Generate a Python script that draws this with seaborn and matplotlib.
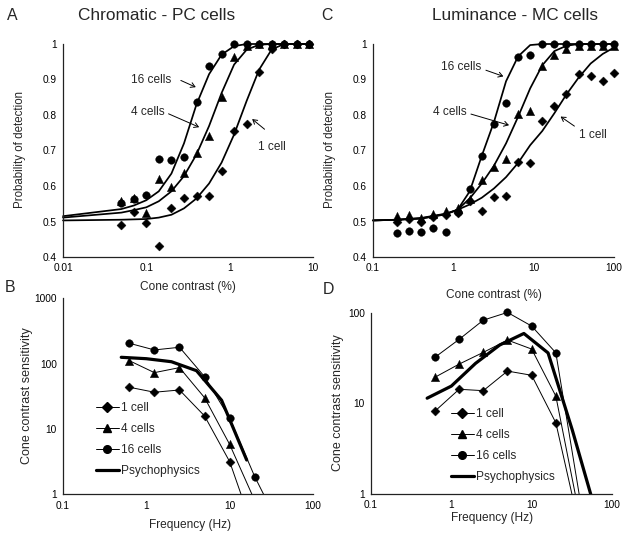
import numpy as np
import pandas as pd
import matplotlib
matplotlib.use("Agg")
import matplotlib.pyplot as plt
import seaborn as sns
from matplotlib.lines import Line2D

# ---------------- data ----------------
# Panel A: chromatic, PC cells (probability of detection vs cone contrast %)
a_x = [0.05, 0.0707, 0.1, 0.141, 0.2, 0.283, 0.4, 0.566, 0.8, 1.13, 1.6, 2.26, 3.2, 4.53, 6.4, 9.05]
a_p16 = [0.553, 0.563, 0.575, 0.677, 0.672, 0.682, 0.838, 0.938, 0.973, 1.0, 1.0, 1.0, 1.0, 1.0, 1.0, 1.0]
a_p4 = [0.558, 0.567, 0.524, 0.619, 0.598, 0.637, 0.694, 0.740, 0.851, 0.963, 0.995, 1.0, 1.0, 1.0, 1.0, 1.0]
a_p1 = [0.489, 0.527, 0.495, 0.431, 0.537, 0.567, 0.572, 0.573, 0.642, 0.756, 0.774, 0.921, 0.985, 1.0, 1.0, 1.0]
a_fit_x = [0.01, 0.05, 0.0707, 0.1, 0.141, 0.2, 0.283, 0.4, 0.566, 0.8, 1.13, 1.6, 2.26, 3.2, 4.53, 6.4, 9.05]
a_fit16 = [0.515, 0.535, 0.545, 0.560, 0.585, 0.635, 0.720, 0.830, 0.915, 0.970, 0.994, 1.0, 1.0, 1.0, 1.0, 1.0, 1.0]
a_fit4 = [0.511, 0.525, 0.532, 0.540, 0.557, 0.585, 0.628, 0.689, 0.769, 0.862, 0.942, 0.984, 0.998, 1.0, 1.0, 1.0, 1.0]
a_fit1 = [0.503, 0.505, 0.506, 0.507, 0.511, 0.519, 0.537, 0.565, 0.607, 0.666, 0.745, 0.840, 0.928, 0.985, 1.0, 1.0, 1.0]

# Panel C: luminance, MC cells
c_x = [0.2, 0.283, 0.4, 0.566, 0.8, 1.13, 1.6, 2.26, 3.2, 4.53, 6.4, 9.05, 12.8, 18.1, 25.6, 36.2, 51.2, 72.4, 100]
c_p16 = [0.468, 0.473, 0.470, 0.482, 0.471, 0.527, 0.591, 0.685, 0.775, 0.833, 0.962, 0.968, 1.0, 1.0, 1.0, 1.0, 1.0, 1.0, 1.0]
c_p4 = [0.516, 0.518, 0.510, 0.520, 0.529, 0.537, 0.562, 0.617, 0.654, 0.676, 0.802, 0.812, 0.937, 0.970, 0.987, 0.993, 0.993, 0.993, 0.993]
c_p1 = [0.499, 0.506, 0.500, 0.513, 0.518, 0.523, 0.558, 0.530, 0.568, 0.572, 0.669, 0.664, 0.782, 0.824, 0.859, 0.915, 0.909, 0.895, 0.918]
c_fit_x = [0.1, 0.2, 0.4, 0.8, 1.13, 1.6, 2.26, 3.2, 4.53, 6.4, 9.05, 12.8, 18.1, 25.6, 36.2, 51.2, 72.4, 100]
c_fit16 = [0.503, 0.505, 0.508, 0.520, 0.533, 0.585, 0.685, 0.780, 0.895, 0.965, 0.997, 1.0, 1.0, 1.0, 1.0, 1.0, 1.0, 1.0]
c_fit4 = [0.503, 0.505, 0.509, 0.521, 0.533, 0.565, 0.607, 0.657, 0.720, 0.795, 0.875, 0.940, 0.980, 0.995, 1.0, 1.0, 1.0, 1.0]
c_fit1 = [0.503, 0.505, 0.510, 0.522, 0.533, 0.548, 0.567, 0.593, 0.625, 0.665, 0.715, 0.755, 0.805, 0.858, 0.905, 0.945, 0.972, 0.990]

# Panel B: chromatic contrast sensitivity vs frequency
b_f = [0.625, 1.25, 2.5, 5, 10, 20]
b_f16 = [0.625, 1.25, 2.5, 5, 10, 20, 40]
b_s1 = [43.5, 36.5, 39.5, 15.8, 3.16, 0.25]
b_s4 = [111, 72.8, 86.9, 30.1, 5.8, 0.8]
b_s16 = [205, 162, 178, 63.2, 14.6, 1.86, 0.32]
b_psy_f = [0.5, 1, 2, 4, 8, 16]
b_psy = [125, 119, 107, 78, 27.5, 3.35]

# Panel D: luminance contrast sensitivity vs frequency
d_f = [0.625, 1.25, 2.5, 5, 10, 20, 40]
d_s1 = [8.2, 14.3, 13.8, 22.7, 20.4, 6.1, 0.4]
d_s4 = [19.4, 27.1, 36.5, 49.9, 39.7, 12.0, 0.54]
d_s16 = [32.2, 50.8, 82.8, 100.7, 71.2, 36.1, 0.87]
d_psy_f = [0.5, 1, 2, 4, 8, 16, 32, 64]
d_psy = [11.4, 15.5, 27.6, 44, 59, 36, 5.1, 0.6]

series_names = ["1 cell", "4 cells", "16 cells"]
markers = {"1 cell": "D", "4 cells": "^", "16 cells": "o"}
msize = {"1 cell": 21, "4 cells": 36, "16 cells": 30}

# ---------------- style ----------------
sns.set_theme(style="white")
plt.rcParams["font.family"] = ["Liberation Sans", "DejaVu Sans"]
plt.rcParams["axes.linewidth"] = 0.9

W, H = 629, 537
fig = plt.figure(figsize=(W / 100, H / 100), dpi=100)
fig.patch.set_facecolor("white")


def add_ax(l, r, t, b):
    return fig.add_axes([l / W, 1 - b / H, (r - l) / W, (b - t) / H])


def ftext(x, y, s, **kw):
    fig.text(x / W, 1 - y / H, s, **kw)


def style_ax(ax):
    sns.despine(ax=ax)
    for sp in ("left", "bottom"):
        ax.spines[sp].set_color("#222222")
    ax.tick_params(axis="both", which="major", direction="out", length=2.5,
                   width=0.8, color="#222222", labelsize=7.3, pad=2, labelcolor="black")
    ax.tick_params(axis="both", which="minor", length=0)
    ax.set_xlabel("")
    ax.set_ylabel("")
    ax.set_facecolor("white")


axA = add_ax(63, 313, 44, 257)
axC = add_ax(373, 614, 44, 257)
axB = add_ax(63, 313, 298.3, 494.3)
axD = add_ax(371, 612, 312.7, 494)

# ---------------- top panels ----------------
for ax, xs, pts, fx, fits, xlim, xt, xtl in [
    (axA, a_x, [a_p1, a_p4, a_p16], a_fit_x, [a_fit1, a_fit4, a_fit16], (0.01, 10),
     [0.01, 0.1, 1, 10], ["0.01", "0.1", "1", "10"]),
    (axC, c_x, [c_p1, c_p4, c_p16], c_fit_x, [c_fit1, c_fit4, c_fit16], (0.1, 100),
     [0.1, 1, 10, 100], ["0.1", "1", "10", "100"]),
]:
    ax.set_xscale("log")
    for fit in fits:
        sns.lineplot(x=fx, y=fit, ax=ax, color="black", lw=1.25, estimator=None,
                     sort=False, clip_on=False, zorder=2)
    for name, p in zip(series_names, pts):
        df = pd.DataFrame({"x": xs, "p": p})
        sns.scatterplot(data=df, x="x", y="p", ax=ax, marker=markers[name], s=msize[name],
                        color="black", edgecolor="black", linewidth=0.3, clip_on=False,
                        legend=False, zorder=3)
    ax.set_xlim(*xlim)
    ax.set_ylim(0.4, 1.0)
    ax.set_xticks(xt)
    ax.set_xticklabels(xtl)
    ax.set_yticks([0.4, 0.5, 0.6, 0.7, 0.8, 0.9, 1.0])
    ax.set_yticklabels(["0.4", "0.5", "0.6", "0.7", "0.8", "0.9", "1"])
    style_ax(ax)

# ---------------- bottom panels ----------------
for ax, fs, sets, pf, ps, ylim, yt, ytl in [
    (axB, [b_f, b_f, b_f16], [b_s1, b_s4, b_s16], b_psy_f, b_psy, (1, 1000),
     [1, 10, 100, 1000], ["1", "10", "100", "1000"]),
    (axD, [d_f, d_f, d_f], [d_s1, d_s4, d_s16], d_psy_f, d_psy, (1, 100),
     [1, 10, 100], ["1", "10", "100"]),
]:
    ax.set_xscale("log")
    ax.set_yscale("log")
    for name, f, s in zip(series_names, fs, sets):
        sns.lineplot(x=f, y=s, ax=ax, color="black", lw=0.7, estimator=None, sort=False, zorder=2)
        df = pd.DataFrame({"f": f, "s": s})
        df = df[df["s"] >= ylim[0]]
        sns.scatterplot(data=df, x="f", y="s", ax=ax, marker=markers[name], s=msize[name],
                        color="black", edgecolor="black", linewidth=0.3, clip_on=False,
                        legend=False, zorder=3)
    sns.lineplot(x=pf, y=ps, ax=ax, color="black", lw=2.3, estimator=None, sort=False, zorder=2.5)
    ax.set_xlim(0.1, 100)
    ax.set_ylim(*ylim)
    ax.set_xticks([0.1, 1, 10, 100])
    ax.set_xticklabels(["0.1", "1", "10", "100"])
    ax.set_yticks(yt)
    ax.set_yticklabels(ytl)
    style_ax(ax)

# legends
handles = [Line2D([], [], color="black", lw=0.7, marker=markers[n],
                  markersize={"1 cell": 4.6, "4 cells": 6.2, "16 cells": 5.5}[n]) for n in series_names]
handles.append(Line2D([], [], color="black", lw=2.3))
labels = series_names + ["Psychophysics"]
for ax, (lx, ty) in [(axB, (96, 402)), (axD, (451, 408))]:
    ax.legend(handles, labels, loc="upper left", bbox_to_anchor=(lx / W, 1 - ty / H),
              bbox_transform=fig.transFigure, frameon=False, fontsize=8.6,
              handlelength=1.9, handletextpad=0.2, labelspacing=0.75,
              borderpad=0, borderaxespad=0, numpoints=1)

# ---------------- annotations (top panels) ----------------
ann = [
    ("16 cells", (171.7, 80), (178.3, 79.3), (198.3, 88.3)),
    ("4 cells", (165, 111.7), (166, 112.7), (201.7, 128.3)),
    ("16 cells", (481.7, 66.7), (483.3, 69.3), (506, 77.3)),
    ("4 cells", (466.7, 111.7), (468.3, 113.3), (511.7, 126)),
]
for s, (tx, ty), (sx, sy), (ex, ey) in ann:
    ftext(tx, ty, s, ha="right", va="center", fontsize=8.6)
    fig.add_artist(matplotlib.patches.FancyArrowPatch(
        (sx / W, 1 - sy / H), (ex / W, 1 - ey / H), transform=fig.transFigure,
        arrowstyle="->,head_length=3,head_width=1.8", color="black", lw=0.7))
for s, (tx, ty), (sx, sy), (ex, ey) in [
    ("1 cell", (272, 147.3), (266.7, 131), (250, 117.3)),
    ("1 cell", (593, 135), (576.7, 127.7), (558.3, 115)),
]:
    ftext(tx, ty, s, ha="center", va="center", fontsize=8.6)
    fig.add_artist(matplotlib.patches.FancyArrowPatch(
        (sx / W, 1 - sy / H), (ex / W, 1 - ey / H), transform=fig.transFigure,
        arrowstyle="->,head_length=3,head_width=1.8", color="black", lw=0.7))

# ---------------- titles / labels ----------------
ftext(12, 15, "A", ha="center", va="center", fontsize=11.4)
ftext(157, 15, "Chromatic - PC cells", ha="center", va="center", fontsize=12.4)
ftext(327, 15, "C", ha="center", va="center", fontsize=11.4)
ftext(515, 15, "Luminance - MC cells", ha="center", va="center", fontsize=12.4)
ftext(10.5, 288, "B", ha="center", va="center", fontsize=11.4)
ftext(328, 290, "D", ha="center", va="center", fontsize=11.4)

ftext(188, 287, "Cone contrast (%)", ha="center", va="center", fontsize=8.6)
ftext(494, 295, "Cone contrast (%)", ha="center", va="center", fontsize=8.6)
ftext(190, 525, "Frequency (Hz)", ha="center", va="center", fontsize=8.6)
ftext(492, 518, "Frequency (Hz)", ha="center", va="center", fontsize=8.6)

ftext(20, 150, "Probability of detection", ha="center", va="center", rotation=90, fontsize=8.3)
ftext(330, 150, "Probability of detection", ha="center", va="center", rotation=90, fontsize=8.3)
ftext(27, 396, "Cone contrast sensitivity", ha="center", va="center", rotation=90, fontsize=9)
ftext(338, 403, "Cone contrast sensitivity", ha="center", va="center", rotation=90, fontsize=9)

fig.savefig("out.png", dpi=100, facecolor="white")
